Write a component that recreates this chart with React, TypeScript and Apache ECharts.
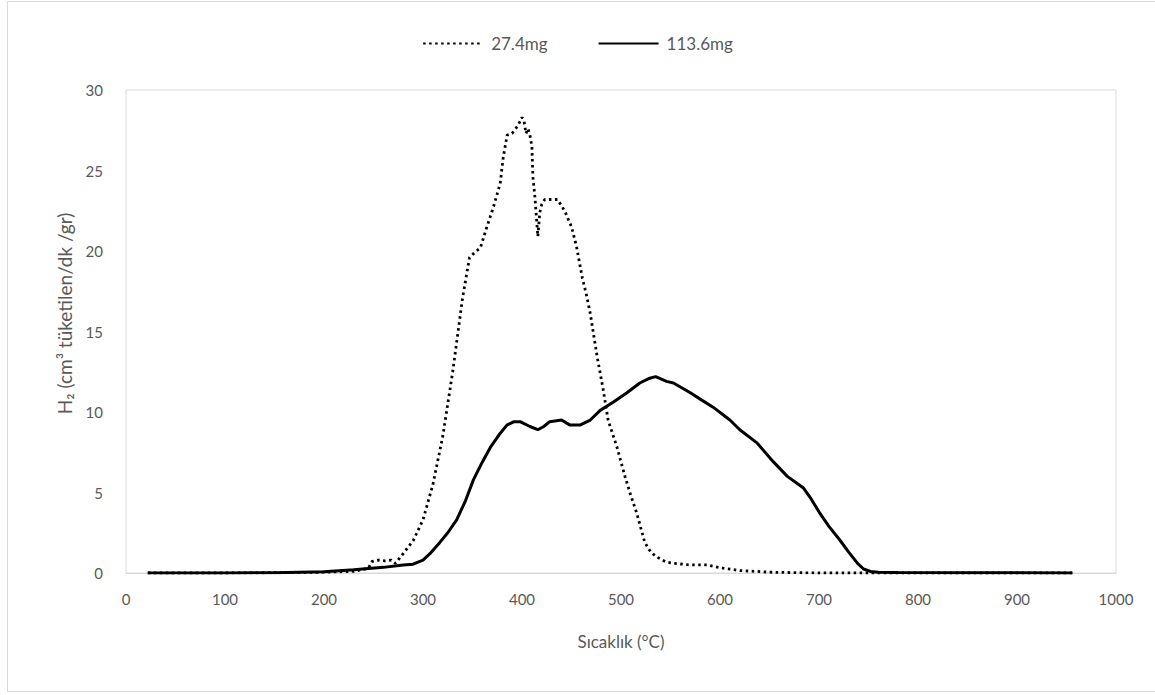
import React, { useEffect, useRef } from "react";
import * as echarts from "echarts";

const seriesNames = ["27.4mg", "113.6mg"];

const xTicks = { min: 0, max: 1000, interval: 100 };
const yTicks = { min: 0, max: 30, interval: 5 };

const temp274 = [22, 50, 100, 150, 200, 230, 245, 248, 255, 262, 268, 272, 280, 290, 300, 310, 320, 330, 340, 347, 352, 358, 364, 371, 378, 381, 385, 390, 396, 400, 402, 404, 406, 408, 410, 411, 413, 416, 418, 420, 423, 430, 436, 443, 450, 455, 461, 465, 469, 476, 482, 487, 496, 504, 510, 516, 524, 530, 536, 545, 553, 570, 587, 595, 603, 620, 637, 650, 700, 760, 800, 850, 900, 956];
const h2_274 = [0, 0, 0, 0.02, 0.05, 0.1, 0.3, 0.7, 0.8, 0.75, 0.8, 0.6, 1.2, 2.0, 3.3, 5.5, 8.5, 12.5, 17.1, 19.6, 19.9, 20.2, 21.4, 22.7, 24.2, 25.8, 27.2, 27.3, 27.8, 28.3, 28.1, 27.3, 27.6, 27.2, 26.5, 24.6, 23.4, 20.9, 22.4, 22.9, 23.2, 23.2, 23.2, 22.5, 21.5, 20.3, 18.3, 17.3, 16.1, 13.4, 11.4, 9.5, 7.8, 6.0, 4.8, 3.7, 1.9, 1.3, 1.0, 0.7, 0.6, 0.5, 0.5, 0.4, 0.3, 0.15, 0.1, 0.05, 0, 0, 0, 0, 0, 0];

const temp1136 = [22, 100, 150, 200, 230, 260, 280, 290, 300, 307, 317, 325, 334, 343, 351, 360, 368, 377, 385, 392, 398, 408, 416, 422, 428, 440, 448, 459, 469, 479, 492, 506, 519, 529, 535, 546, 553, 570, 580, 593, 610, 620, 637, 654, 668, 684, 691, 701, 710, 721, 730, 739, 745, 752, 760, 780, 850, 956];
const h2_1136 = [0, 0, 0.02, 0.08, 0.2, 0.35, 0.5, 0.55, 0.8, 1.2, 1.9, 2.5, 3.3, 4.5, 5.8, 6.9, 7.8, 8.6, 9.2, 9.4, 9.4, 9.1, 8.9, 9.1, 9.4, 9.5, 9.2, 9.2, 9.5, 10.1, 10.6, 11.2, 11.8, 12.1, 12.2, 11.9, 11.8, 11.2, 10.8, 10.3, 9.5, 8.9, 8.1, 6.9, 6.0, 5.3, 4.7, 3.7, 2.9, 2.05, 1.3, 0.6, 0.25, 0.1, 0.05, 0.03, 0.02, 0];

const xName = "Sıcaklık (°C)";
const yName = "H₂ (cm³ tüketilen/dk /gr)";

const FONT = "Lato, 'Open Sans', sans-serif";
const GREY = "#595959";

export default function App() {
  const ref = useRef<HTMLDivElement>(null);
  useEffect(() => {
    if (!ref.current) return;
    const chart = echarts.init(ref.current, undefined, { renderer: "svg" });
    const pairs = (xs: number[], ys: number[]) => xs.map((x, i) => [x, ys[i]]);
    chart.setOption({
      animation: false,
      backgroundColor: "#ffffff",
      textStyle: { fontFamily: FONT },
      graphic: [
        {
          type: "rect",
          shape: { x: 7.5, y: 1.5, width: 1160, height: 690 },
          style: { fill: "none", stroke: "#d9d9d9", lineWidth: 1 },
          silent: true,
        },
      ],
      legend: {
        top: 30,
        left: "center",
        itemWidth: 60,
        itemHeight: 14,
        itemGap: 50,
        itemStyle: { opacity: 0 },
        textStyle: { color: GREY, fontSize: 17, fontFamily: FONT, padding: [0, 0, 0, 3] },
        data: seriesNames,
      },
      grid: {
        left: 126,
        right: 39,
        top: 90,
        bottom: 122,
        show: true,
        borderColor: "#d9d9d9",
        borderWidth: 1,
      },
      xAxis: {
        type: "value",
        min: xTicks.min,
        max: xTicks.max,
        interval: xTicks.interval,
        name: xName,
        nameLocation: "middle",
        nameGap: 60,
        nameTextStyle: { color: GREY, fontSize: 17, fontFamily: FONT },
        axisLine: { show: true, lineStyle: { color: "#d9d9d9" } },
        axisTick: { show: false },
        splitLine: { show: false },
        axisLabel: {
          color: GREY,
          fontSize: 15,
          margin: 18,
          fontFamily: FONT,
          formatter: (v: number) => String(v),
        },
      },
      yAxis: {
        type: "value",
        min: yTicks.min,
        max: yTicks.max,
        interval: yTicks.interval,
        name: yName,
        nameLocation: "middle",
        nameGap: 52,
        nameTextStyle: { color: GREY, fontSize: 19, fontFamily: FONT, padding: [0, 0, 0, 36] },
        axisLine: { show: false },
        axisTick: { show: false },
        splitLine: { show: false },
        axisLabel: { color: GREY, fontSize: 15, margin: 23, fontFamily: FONT },
      },
      series: [
        {
          name: seriesNames[0],
          type: "line",
          data: pairs(temp274, h2_274),
          showSymbol: false,
          symbol: "none",
          color: "#000000",
          lineStyle: { color: "#000000", width: 2.8, type: [2.5, 3.5], cap: "butt" },
        },
        {
          name: seriesNames[1],
          type: "line",
          data: pairs(temp1136, h2_1136),
          showSymbol: false,
          symbol: "none",
          color: "#000000",
          lineStyle: { color: "#000000", width: 3 },
        },
      ],
    });
    return () => chart.dispose();
  }, []);
  return (
    <div
      ref={ref}
      style={{ position: "fixed", left: 0, top: 0, width: 1155, height: 695 }}
    />
  );
}
